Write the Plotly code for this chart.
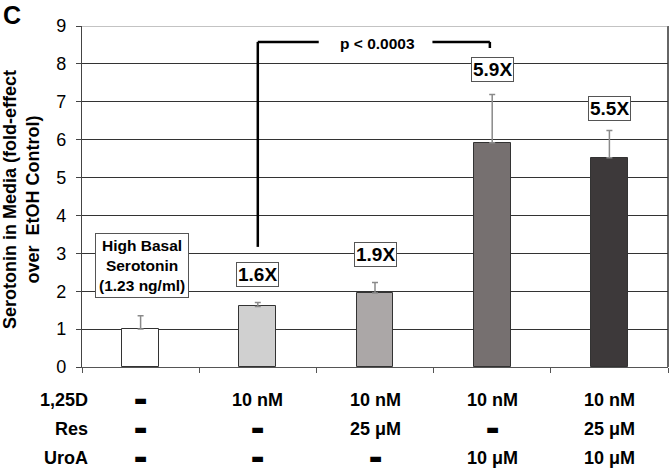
import plotly.graph_objects as go

# ---- data ----
conditions = ["EtOH", "1,25D", "1,25D+Res", "1,25D+UroA", "1,25D+Res+UroA"]
fold_values = [1.0, 1.6, 1.95, 5.92, 5.52]
fold_errors = [0.35, 0.1, 0.28, 1.27, 0.72]
bar_colors = ["#ffffff", "#d0d0d0", "#aba7a7", "#767070", "#3d393a"]
fold_labels = ["", "1.6X", "1.9X", "5.9X", "5.5X"]
label_y = [None, 2.45, 2.98, 7.84, 6.83]
row_names = ["1,25D", "Res", "UroA"]
row_vals = [
    ["-", "10 nM", "10 nM", "10 nM", "10 nM"],
    ["-", "-", "25 μM", "-", "25 μM"],
    ["-", "-", "-", "10 μM", "10 μM"],
]
y_ticks = list(range(0, 10))
p_text = "p < 0.0003"

FONT = "Arial, Liberation Sans, sans-serif"
xpos = list(range(len(conditions)))

fig = go.Figure()
fig.add_trace(go.Bar(
    x=xpos, y=fold_values, width=0.315,
    marker=dict(color=bar_colors, line=dict(color="#333333", width=1)),
    error_y=dict(type="data", array=fold_errors, arrayminus=[0]*5, symmetric=False,
                 color="#8a8a8a", thickness=1.5, width=3),
    hoverinfo="skip",
))

ann = []
# fold labels
for i, (t, yy) in enumerate(zip(fold_labels, label_y)):
    if t:
        ann.append(dict(x=xpos[i], y=yy, text="<b>%s</b>" % t, showarrow=False,
                        font=dict(size=19, color="#000", family=FONT),
                        bgcolor="white", bordercolor="#555", borderwidth=1, borderpad=1))
ann.append(dict(x=0.01, y=2.68, text="<b>High Basal<br>Serotonin<br>(1.23 ng/ml)</b>", showarrow=False,
                font=dict(size=15.5, color="#000", family=FONT),
                bgcolor="white", bordercolor="#555", borderwidth=1, borderpad=3))
ann.append(dict(x=2.02, y=8.55, text="<b>%s</b>" % p_text, showarrow=False,
                font=dict(size=15.5, color="#000", family=FONT)))
# panel letter
ann.append(dict(xref="paper", yref="paper", x=0, y=1, xanchor="center", yanchor="top",
                xshift=-70, yshift=27, text="<b>C</b>",
                showarrow=False, font=dict(size=25, color="#000", family=FONT)))
# y-axis title
ann.append(dict(xref="paper", yref="paper", x=0, y=0.49, xanchor="center", yanchor="middle",
                xshift=-60, textangle=-90,
                text="<b>Serotonin in Media (fold-effect<br>over  EtOH Control)</b>",
                showarrow=False, font=dict(size=18, color="#000", family=FONT)))
# table rows
row_shift = [-33, -62, -91]
for r, name in enumerate(row_names):
    ann.append(dict(xref="paper", yref="paper", x=0, y=0, xshift=8, yshift=row_shift[r],
                    xanchor="right", yanchor="middle", text="<b>%s</b>" % name, showarrow=False,
                    font=dict(size=18, color="#000", family=FONT)))
    for i, v in enumerate(row_vals[r]):
        if v == "-":
            ann.append(dict(x=xpos[i], yref="paper", y=0, yshift=row_shift[r], yanchor="middle",
                            text="▬", showarrow=False,
                            font=dict(size=14, color="#000", family="DejaVu Sans")))
        else:
            ann.append(dict(x=xpos[i], yref="paper", y=0, yshift=row_shift[r], yanchor="middle",
                            text="<b>%s</b>" % v, showarrow=False,
                            font=dict(size=18, color="#000", family=FONT)))

shapes = [
    dict(type="line", x0=1, x1=1, y0=3.17, y1=8.58, line=dict(color="black", width=2.5)),
    dict(type="line", x0=1, x1=1.52, y0=8.58, y1=8.58, line=dict(color="black", width=2.5)),
    dict(type="line", x0=2.49, x1=2.98, y0=8.58, y1=8.58, line=dict(color="black", width=2.5)),
    dict(type="line", x0=2.98, x1=2.98, y0=8.58, y1=8.42, line=dict(color="black", width=2.5)),
    dict(type="line", xref="paper", x0=1, x1=1, y0=0, y1=9, line=dict(color="#333", width=1.5)),
    dict(type="line", xref="paper", x0=0, x1=1, y0=9, y1=9, line=dict(color="#888", width=1.2)),
]

fig.update_layout(
    width=669, height=471,
    margin=dict(l=82, r=1, t=26, b=104),
    paper_bgcolor="white", plot_bgcolor="white",
    showlegend=False, bargap=0,
    annotations=ann, shapes=shapes,
    font=dict(family=FONT, color="#000"),
    xaxis=dict(range=[-0.5, 4.5], tickvals=[-0.5, 0.5, 1.5, 2.5, 3.5, 4.5], ticktext=[""]*6,
               ticks="outside", ticklen=5, tickcolor="#555", showgrid=False, zeroline=False,
               showline=True, linecolor="#555", linewidth=1.2, fixedrange=True),
    yaxis=dict(range=[0, 9], tickvals=y_ticks, ticks="outside", ticklen=5, tickcolor="#444",
               showgrid=True, gridcolor="#333", gridwidth=1, zeroline=False,
               showline=True, linecolor="#444", linewidth=1.2,
               tickfont=dict(size=18, family=FONT, color="#000"),
               ticklabelstandoff=6, tickprefix="<b>", ticksuffix="</b>", fixedrange=True),
)

# remove the default 8px page margin so the figure fills the window exactly
fig.write_html("out.html", config={"displayModeBar": False},
               post_script="document.body.style.margin='0';document.body.style.overflow='hidden';")
